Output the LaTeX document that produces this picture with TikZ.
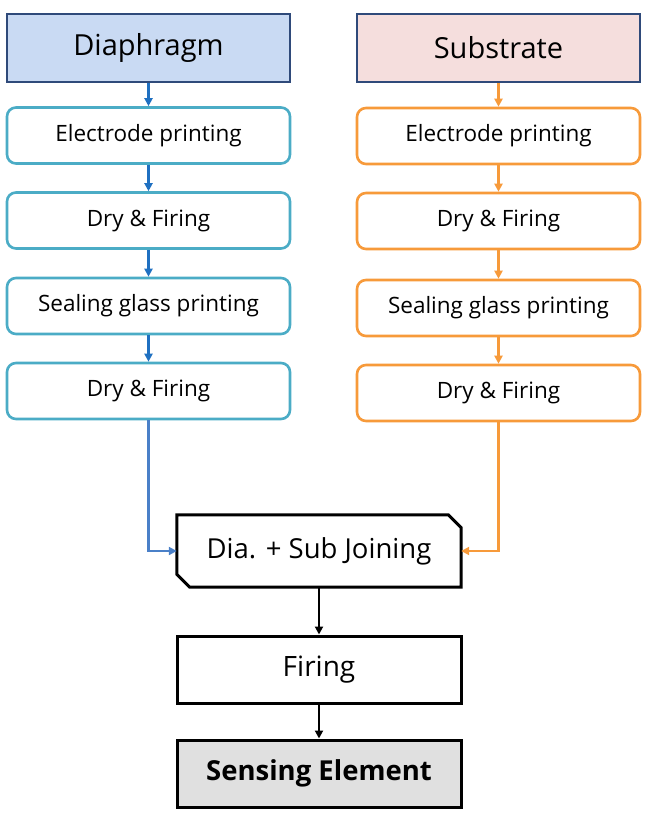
\documentclass[tikz,border=0pt]{standalone}
\usepackage{fontspec}
\setmainfont{Open Sans}
\usetikzlibrary{arrows.meta,positioning,calc}
\definecolor{navy}{HTML}{2F4A7A}
\definecolor{blfill}{HTML}{C9DAF3}
\definecolor{pkfill}{HTML}{F5DEDD}
\definecolor{teal}{HTML}{4BACC6}
\definecolor{blarrow}{HTML}{1F70C1}
\definecolor{blline}{HTML}{4A80C8}
\definecolor{orng}{HTML}{F79A3A}
\definecolor{grayfill}{HTML}{E0E0E0}
\tikzset{
  headbox/.style={draw=navy, line width=2.8pt, minimum width=283pt, minimum height=68pt, font=\fontsize{29}{33}\selectfont, inner sep=0pt},
  procL/.style={draw=teal, line width=2.6pt, rounded corners=9pt, minimum width=283pt, minimum height=56pt, font=\fontsize{22.5}{26}\selectfont, inner sep=0pt, fill=white},
  procR/.style={procL, draw=orng},
  blkbox/.style={draw=black, line width=3pt, minimum width=284pt, minimum height=67pt, inner sep=0pt},
  tip/.style={-{Triangle[length=8pt,width=8pt]}},
  barrow/.style={tip, draw=blarrow, line width=2.6pt},
  oarrow/.style={tip, draw=orng, line width=2.6pt},
  karrow/.style={tip, draw=black, line width=2.8pt},
}
\begin{document}
\begin{tikzpicture}[x=1pt,y=-1pt]
\useasboundingbox (0,0) rectangle (653,819);
% headers
\node[headbox, fill=blfill] (dia) at (148.5,48) {Diaphragm};
\node[headbox, fill=pkfill] (sub) at (498.5,48) {Substrate};
% left column
\node[procL] (l1) at (148.5,135.5) {Electrode printing};
\node[procL] (l2) at (148.5,220.5) {Dry \& Firing};
\node[procL] (l3) at (148.5,306) {Sealing glass printing};
\node[procL] (l4) at (148.5,391) {Dry \& Firing};
% right column
\node[procR] (r1) at (498.5,136) {Electrode printing};
\node[procR] (r2) at (498.5,221) {Dry \& Firing};
\node[procR] (r3) at (498.5,308) {Sealing glass printing};
\node[procR] (r4) at (498.5,393) {Dry \& Firing};
% joining (chamfered)
\node[minimum width=284pt, minimum height=72pt, inner sep=0pt, font=\fontsize{27.5}{31}\selectfont] (join) at (319,551) {Dia. + Sub Joining};
\draw[line width=3pt, line join=miter]
  (join.north west) -- ([xshift=-13pt]join.north east) -- ([yshift=-13pt]join.north east)
  -- (join.south east) -- ([xshift=13pt]join.south west) -- ([yshift=13pt]join.south west) -- cycle;
% bottom
\node[blkbox, font=\fontsize{28}{32}\selectfont] (fire) at (319,669.5) {Firing};
\node[blkbox, fill=grayfill, font=\fontsize{27.5}{32}\selectfont\bfseries] (sense) at (319,773.5) {Sensing Element};
% arrows
\draw[barrow] (dia) -- (l1);
\draw[barrow] (l1) -- (l2);
\draw[barrow] (l2) -- (l3);
\draw[barrow] (l3) -- (l4);
\draw[oarrow] (sub) -- (r1);
\draw[oarrow] (r1) -- (r2);
\draw[oarrow] (r2) -- (r3);
\draw[oarrow] (r3) -- (r4);
\draw[tip, draw=blline, line width=2.6pt] (l4.south) |- (join.west);
\draw[oarrow] (r4.south) |- (join.east);
\draw[karrow] (join) -- (fire);
\draw[karrow] (fire) -- (sense);
\end{tikzpicture}
\end{document}
